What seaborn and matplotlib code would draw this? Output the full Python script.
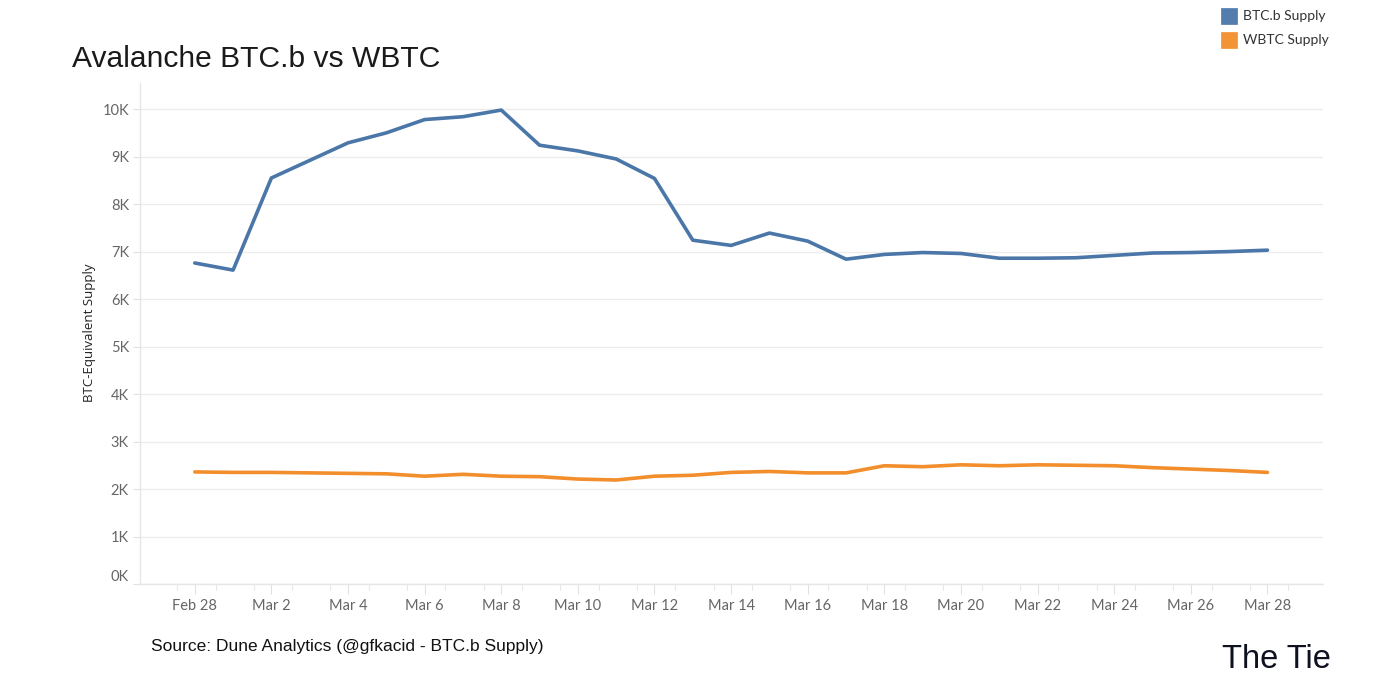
import numpy as np
import pandas as pd
import matplotlib
matplotlib.use("Agg")
import matplotlib.pyplot as plt
from matplotlib.patches import Rectangle
import seaborn as sns

# ---- data ----
dates = pd.date_range("2022-02-28", "2022-03-28", freq="D")
btcb_supply = [6760, 6610, 8550, 8920, 9290, 9500, 9780, 9840, 9980, 9240,
               9120, 8950, 8540, 7240, 7130, 7390, 7220, 6840, 6940, 6980,
               6960, 6860, 6860, 6870, 6920, 6970, 6980, 7000, 7030]
wbtc_supply = [2360, 2350, 2350, 2340, 2330, 2320, 2270, 2310, 2270, 2260,
               2210, 2190, 2270, 2290, 2350, 2370, 2340, 2340, 2490, 2470,
               2510, 2490, 2510, 2500, 2490, 2450, 2420, 2390, 2350]
series_names = ["BTC.b Supply", "WBTC Supply"]
series_colors = ["#4a76a8", "#f28e2b"]
x_tick_labels = ["Feb 28", "Mar 2", "Mar 4", "Mar 6", "Mar 8", "Mar 10", "Mar 12",
                 "Mar 14", "Mar 16", "Mar 18", "Mar 20", "Mar 22", "Mar 24",
                 "Mar 26", "Mar 28"]
y_ticks = [0, 1000, 2000, 3000, 4000, 5000, 6000, 7000, 8000, 9000, 10000]
y_tick_labels = ["0K", "1K", "2K", "3K", "4K", "5K", "6K", "7K", "8K", "9K", "10K"]

df = pd.DataFrame({
    "date": list(dates) * 2,
    "supply": btcb_supply + wbtc_supply,
    "series": [series_names[0]] * len(dates) + [series_names[1]] * len(dates),
})

# ---- figure ----
sns.set_style("white")
plt.rcParams["font.family"] = ["Lato", "DejaVu Sans"]

fig = plt.figure(figsize=(14, 7), dpi=100)
W, H = 1400, 700
ax = fig.add_axes([140 / W, 1 - 584 / H, (1323 - 140) / W, (584 - 83) / H])

sns.lineplot(data=df, x="date", y="supply", hue="series",
             palette=dict(zip(series_names, series_colors)),
             linewidth=2.6, ax=ax, legend=False)

# axes limits
ax.set_xlim(dates[0] - pd.Timedelta(hours=1.43 * 24), dates[-1] + pd.Timedelta(hours=1.45 * 24))
ax.set_ylim(0, 10550)

# y axis
ax.set_yticks(y_ticks, y_tick_labels)
ax.yaxis.grid(True, color="#ececec", linewidth=1)
ax.xaxis.grid(False)
ax.tick_params(axis="y", length=5, width=0.8, color="#e0e0e0", labelsize=10.5,
               labelcolor="#666666", pad=3, left=True)
ax.get_yaxis().get_major_ticks()[0].label1.set_verticalalignment("bottom")
ax.set_ylabel("")
ax.set_xlabel("")

# x axis
ax.set_xticks(list(dates[::2]), x_tick_labels)
ax.set_xticks(list(dates - pd.Timedelta(hours=11)) + [dates[-1] + pd.Timedelta(hours=13)], minor=True)
ax.tick_params(axis="x", which="major", length=7, width=0.8, color="#e0e0e0",
               labelsize=10.5, labelcolor="#666666", pad=4, bottom=True)
ax.tick_params(axis="x", which="minor", length=4, width=0.8, color="#e8e8e8", bottom=True)

for s in ["top", "right"]:
    ax.spines[s].set_visible(False)
for s in ["left", "bottom"]:
    ax.spines[s].set_color("#e6e6e6")
    ax.spines[s].set_linewidth(1)

# y label
fig.text(90 / W, 1 - 333 / H, "BTC-Equivalent Supply", rotation=90,
         ha="center", va="center", fontsize=9.5, color="#222222",
         family=["Open Sans", "DejaVu Sans"])

# title
fig.text(72 / W, 1 - 67 / H, "Avalanche BTC.b vs WBTC", ha="left", va="baseline",
         fontsize=21.6, color="#1a1a1a", family=["Liberation Sans", "DejaVu Sans"])

# legend
leg_y = [16, 40]
for name, col, yc in zip(series_names, series_colors, leg_y):
    fig.patches.append(Rectangle((1221 / W, 1 - (yc + 8) / H), 16 / W, 16 / H,
                                 transform=fig.transFigure, facecolor=col,
                                 edgecolor=col, linewidth=0.5, alpha=0.95))
    fig.text(1243 / W, 1 - yc / H, name, ha="left", va="center", fontsize=10,
             color="#333333", family=["Lato", "DejaVu Sans"])

# source
fig.text(151 / W, 1 - 646 / H, "Source: Dune Analytics (@gfkacid - BTC.b Supply)",
         ha="left", va="center", fontsize=12.5, color="#111111",
         family=["Liberation Sans", "DejaVu Sans"])

# logo
fig.text(1222 / W, 1 - 668 / H, "The Tie", ha="left", va="baseline", fontsize=23.5,
         color="#0f1020", family=["Liberation Sans", "DejaVu Sans"])

fig.savefig("out.png", dpi=100, facecolor="white")
